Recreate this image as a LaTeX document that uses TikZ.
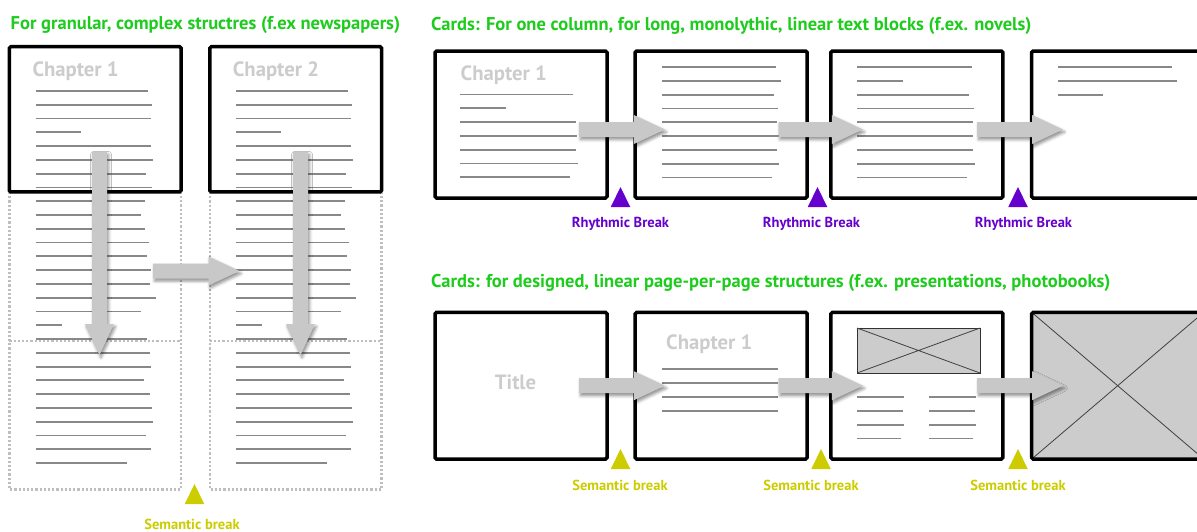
\documentclass[tikz,border=0pt]{standalone}
\usepackage{fontspec}
\setmainfont{PT Sans}
\usetikzlibrary{calc,shadows.blur}

\definecolor{headgreen}{RGB}{30,204,30}
\definecolor{rhythm}{RGB}{102,0,204}
\definecolor{semantic}{RGB}{204,204,0}
\definecolor{ghost}{RGB}{204,204,204}
\definecolor{dotgray}{RGB}{190,190,190}
\definecolor{rulegray}{RGB}{136,136,136}
\definecolor{flowgray}{RGB}{200,200,200}

\tikzset{
  card/.style={draw=black, line width=3.5pt, rounded corners=1.5pt,
    minimum width=172pt, minimum height=147pt, inner sep=0pt, outer sep=0pt},
  dotbox/.style={minimum width=171.7pt, inner sep=0pt, outer sep=0pt},
  dotline/.style={draw=dotgray, line width=2.4pt, dash pattern=on 2.2pt off 2pt},
  textline/.style={draw=rulegray, line width=1.8pt},
  heading/.style={text=headgreen, font=\fontsize{18.5}{22}\selectfont\bfseries,
    inner sep=0pt, anchor=base west},
  ghosttext/.style={text=ghost, font=\fontsize{20.7}{24}\selectfont\bfseries,
    inner sep=0pt, anchor=base west},
  breaklabel/.style={font=\fontsize{14.5}{17}\selectfont\bfseries,
    inner sep=0pt, anchor=base},
  flowfill/.style={fill=flowgray, blur shadow={shadow xshift=1.5pt,
    shadow yshift=-2.5pt, shadow blur radius=3pt, shadow opacity=45}},
  imgbox/.style={draw=black!80, line width=0.9pt, fill=ghost, inner sep=0pt,
    outer sep=0pt},
  xline/.style={draw=black!75, line width=0.8pt},
}

% block arrow: shaft 15pt, head 29pt wide and 31pt long, from #1 to the tip #2
\newcommand\flowarrow[2]{%
  \coordinate (flowS) at (#1);
  \coordinate (flowT) at (#2);
  \coordinate (flowH) at ($(flowT)!31pt!(flowS)$);
  \path[flowfill]
    ($(flowS)!7.5pt!90:(flowT)$) -- ($(flowH)!7.5pt!-90:(flowS)$)
    -- ($(flowH)!14.5pt!-90:(flowS)$) -- (flowT)
    -- ($(flowH)!14.5pt!90:(flowS)$) -- ($(flowH)!7.5pt!90:(flowS)$)
    -- ($(flowS)!7.5pt!-90:(flowT)$) -- cycle;}

% break marker: triangle of 19.5pt base, apex at (#1,#2)
\newcommand\breakmark[3]{%
  \fill[#3] (#1,#2) -- ++(9.75,20) -- ++(-19.5,0) -- cycle;}

\begin{document}
\begin{tikzpicture}[x=1pt, y=-1pt]
\useasboundingbox (0,0) rectangle (1197,531);
\clip (0,0) rectangle (1197,531);

% ---------- granular structures ----------
\node[heading] (h1) at (10.5,29) {For granular, complex structres (f.ex newspapers)};

% continuation areas below each card, outlined with dotted lines
\node[dotbox, minimum height=149pt] (L1b) at (95.2,266.5) {};
\node[dotbox, minimum height=148.3pt] (L1c) at (95.2,415.2) {};
\node[dotbox, minimum height=149pt] (L2b) at (295.7,266.5) {};
\node[dotbox, minimum height=148.3pt] (L2c) at (295.7,415.2) {};
\foreach \u/\l in {L1b/L1c, L2b/L2c} {
  \draw[dotline] (\u.north west) -- (\l.south west) -- (\l.south east)
    -- (\u.north east);
  \draw[dotline] (\u.south west) -- (\u.south east);
}

\node[card, fill=white, minimum width=171.7pt, minimum height=145.3pt] (L1) at (95.2,119.3) {};
\node[card, fill=white, minimum width=171.7pt, minimum height=145.3pt] (L2) at (295.7,119.3) {};

\node[ghosttext] (c1) at (32.3,76) {Chapter 1};
\node[ghosttext] (c2) at (232.7,76) {Chapter 2};

\foreach \e [count=\k from 0] in
  {148,152,151,81,151,153,146,152,145,141,145,149,147,151,
   150,156,141,62,147,150,151,144,150,152,153,146,151,127} {
  \draw[textline] (35.5,{91+\k*13.78}) -- (\e,{91+\k*13.78});
  \draw[textline] (236,{91+\k*13.78}) -- ({\e+200},{91+\k*13.78});
}

\flowarrow{$(L1.south)+(4.3,-40)$}{$(L1c.north)+(4.3,14)$}
\flowarrow{$(L2.south)+(4.8,-40)$}{$(L2c.north)+(4.8,14)$}
\flowarrow{$(L1b.east)+(-28,4.5)$}{$(L2b.west)+(29.7,4.5)$}

\breakmark{194.5}{484}{semantic}
\node[breaklabel, text=semantic] (s0) at (192,529) {Semantic break};

% ---------- one-column cards ----------
\node[heading] (h2) at (431,30) {Cards: For one column, for long, monolythic, linear text blocks (f.ex. novels)};

\node[card] (tA) at (521,124.5) {};
\node[card] (tB) at (721.2,124.5) {};
\node[card] (tC) at (916.9,124.5) {};
\node[card] (tD) at (1117.7,124.5) {};

\node[ghosttext] (c3) at (460.5,80) {Chapter 1};

\foreach \e [count=\k from 0] in {573,506,576,577,576,578,570}
  \draw[textline] (460,{94.4+\k*13.8}) -- (\e,{94.4+\k*13.8});
\foreach \e [count=\k from 0] in {776,781,774,778,777,781,777,779,772}
  \draw[textline] (662,{67+\k*13.8}) -- (\e,{67+\k*13.8});
\foreach \e [count=\k from 0] in {972,903,969,974,973,973,973,975,967}
  \draw[textline] (857,{67+\k*13.8}) -- (\e,{67+\k*13.8});
\foreach \e [count=\k from 0] in {1172,1177,1103}
  \draw[textline] (1058,{67+\k*13.8}) -- (\e,{67+\k*13.8});

\flowarrow{$(tA.east)+(-28,5)$}{$(tB.west)+(29.7,5)$}
\flowarrow{$(tB.east)+(-28.7,5)$}{$(tC.west)+(32,5)$}
\flowarrow{$(tC.east)+(-25.7,5)$}{$(tD.west)+(31.3,5)$}

\breakmark{620.5}{187}{rhythm}
\breakmark{817.5}{187}{rhythm}
\breakmark{1018}{187}{rhythm}
\node[breaklabel, text=rhythm] (r1) at (620.5,227.5) {Rhythmic Break};
\node[breaklabel, text=rhythm] (r2) at (811.5,227.5) {Rhythmic Break};
\node[breaklabel, text=rhythm] (r3) at (1023.5,227.5) {Rhythmic Break};

% ---------- page-per-page cards ----------
\node[heading] (h3) at (431,287) {Cards: for designed, linear page-per-page structures (f.ex. presentations, photobooks)};

\node[card, minimum height=146.7pt] (bA) at (521,385.7) {};
\node[card, minimum height=146.7pt] (bB) at (721.2,385.7) {};
\node[card, minimum height=146.7pt] (bC) at (916.9,385.7) {};
\node[card, minimum height=146.7pt, fill=ghost, draw=none] (bD) at (1117.7,385.7) {};
\draw[xline] (bD.north west) -- (bD.south east) (bD.south west) -- (bD.north east);
\draw[black, line width=3.5pt, rounded corners=1.5pt]
  (bD.north west) rectangle (bD.south east);

\node[ghosttext, anchor=base] (t1) at (515.5,389) {Title};
\node[ghosttext] (c4) at (666,349) {Chapter 1};
\foreach \k in {0,...,3}
  \draw[textline] (662,{369+\k*13.9}) -- (778,{369+\k*13.9});

\node[imgbox, minimum width=123pt, minimum height=45pt] (ph) at (918.5,350.5) {};
\draw[xline] (ph.north west) -- (ph.south east) (ph.south west) -- (ph.north east);
\foreach \a/\b [count=\k from 0] in {904/976,903/975,904/976,901/973} {
  \draw[textline] (857,{397+\k*13.8}) -- (\a,{397+\k*13.8});
  \draw[textline] (929,{397+\k*13.8}) -- (\b,{397+\k*13.8});
}

\flowarrow{$(bA.east)+(-28,0)$}{$(bB.west)+(29.7,0)$}
\flowarrow{$(bB.east)+(-28.7,0)$}{$(bC.west)+(32,0)$}
\flowarrow{$(bC.east)+(-25.7,0)$}{$(bD.west)+(31.3,0)$}

\breakmark{620.5}{449}{semantic}
\breakmark{821}{449}{semantic}
\breakmark{1018}{449}{semantic}
\node[breaklabel, text=semantic] (s1) at (620,490) {Semantic break};
\node[breaklabel, text=semantic] (s2) at (811,490) {Semantic break};
\node[breaklabel, text=semantic] (s3) at (1018,490) {Semantic break};
\end{tikzpicture}
\end{document}
